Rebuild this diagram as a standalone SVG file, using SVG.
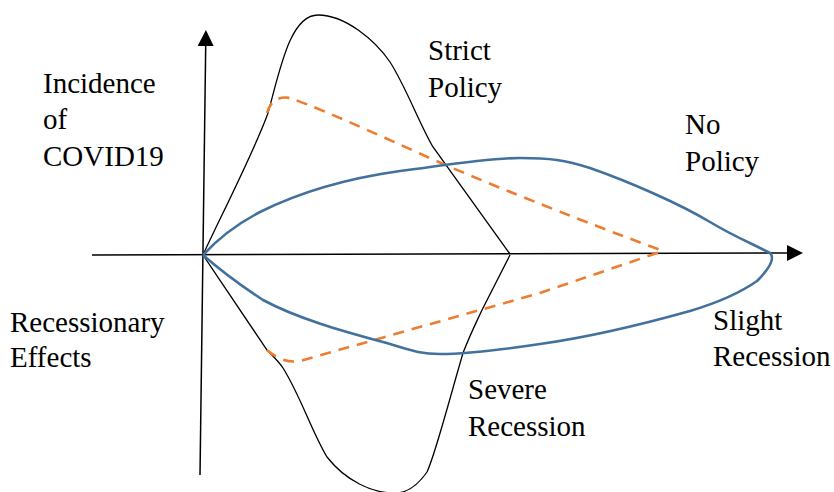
<svg xmlns="http://www.w3.org/2000/svg" width="834" height="492" viewBox="0 0 834 492">
<style>
.lbl{font-family:"Liberation Serif","Times New Roman",serif;font-size:29px;fill:#000}
.axis{fill:none;stroke:#000;stroke-width:1.5}
.strict{fill:none;stroke:#000;stroke-width:1.3}
.nopol{fill:none;stroke:#41719C;stroke-width:2.6}
.mid{fill:none;stroke:#ED7D31;stroke-width:2.6;stroke-dasharray:11 8}
</style>
<defs>
<marker id="arr" markerUnits="userSpaceOnUse" markerWidth="16" markerHeight="16" refX="0" refY="8" orient="auto" viewBox="0 0 16 16">
<path d="M0,0 L16,8 L0,16 z" fill="#000"/>
</marker>
</defs>
<g id="connectors">
<path id="x-axis" class="axis" d="M92,255 L787,253" marker-end="url(#arr)"/>
<path id="y-axis" class="axis" d="M200,475 L205.7,46" marker-end="url(#arr)"/>
</g>
<g id="strict-policy-curve">
<path class="strict" d="M203,255 C215,228 255,150 268,113 C280,70 290,15 318,15 C345,15 375,40 390,62 C405,85 420,125 433,147 L510,254"/>
<path class="strict" d="M203,255 C225,288 250,325 267,350 C275,358 280,363 283,368 C300,395 312,432 327,457 C345,480 372,494 397,493 C410,492 420,482 427,472 C435,455 445,415 463,353 C470,335 475,325 482,310 L510,255"/>
</g>
<g id="middle-curve">
<path class="mid" d="M267,113 Q272,95 290,98 C330,112 400,145 450,167 C540,205 620,235 663,251"/>
<path class="mid" d="M267,350 Q283,364 300,361 L540,293 L663,251"/>
</g>
<g id="no-policy-curve">
<path class="nopol" d="M203,255 C215,242 235,225 260,212 C300,192 350,178 400,171 C440,166 485,158 520,158 C550,158 565,160 590,168 C630,182 680,204 710,222 C735,237 755,245 770,253 C775,258 770,268 757,281 C740,293 720,302 690,311 C640,325 590,337 540,344 C500,350 470,354 440,354 C420,354 410,350 390,344 C350,333 300,320 263,300 C240,285 220,270 203,255"/>
</g>
<g id="label-incidence" class="lbl"><text x="43" y="93">Incidence</text><text x="43" y="129">of</text><text x="43" y="166">COVID19</text></g>
<g id="label-strict" class="lbl"><text x="428" y="60">Strict</text><text x="428" y="97">Policy</text></g>
<g id="label-nopolicy" class="lbl"><text x="685" y="134">No</text><text x="685" y="171">Policy</text></g>
<g id="label-recessionary" class="lbl"><text x="10" y="332">Recessionary</text><text x="10" y="367">Effects</text></g>
<g id="label-slight" class="lbl"><text x="713" y="330">Slight</text><text x="713" y="366">Recession</text></g>
<g id="label-severe" class="lbl"><text x="468" y="399">Severe</text><text x="468" y="436">Recession</text></g>
</svg>
